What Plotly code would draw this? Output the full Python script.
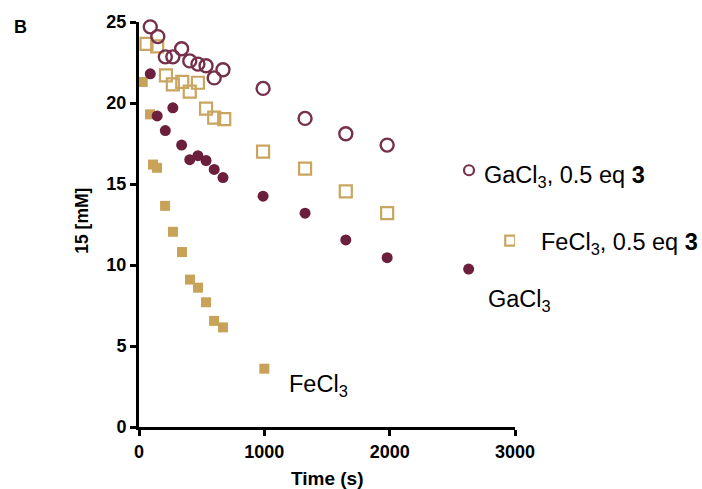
import plotly.graph_objects as go

# Time (s) and concentration of 15 (mM) for each condition
ga_eq_t = [90, 150, 210, 270, 340, 405, 470, 535, 600, 670, 990, 1325, 1650, 1980]
ga_eq_c = [24.7, 24.1, 22.85, 22.85, 23.35, 22.6, 22.4, 22.3, 21.55, 22.05, 20.9, 19.05, 18.1, 17.4]

fe_eq_t = [60, 145, 215, 270, 345, 405, 470, 535, 600, 680, 990, 1325, 1650, 1980]
fe_eq_c = [23.65, 23.5, 21.7, 21.15, 21.3, 20.7, 21.25, 19.65, 19.1, 19.0, 17.0, 15.95, 14.55, 13.2]

ga_t = [90, 145, 210, 270, 340, 405, 470, 535, 600, 670, 990, 1325, 1650, 1980, 2630]
ga_c = [21.8, 19.2, 18.3, 19.7, 17.4, 16.5, 16.75, 16.45, 15.9, 15.4, 14.25, 13.2, 11.55, 10.45, 9.75]

fe_t = [30, 88, 112, 144, 208, 271, 343, 407, 471, 535, 599, 670, 1000]
fe_c = [21.3, 19.3, 16.2, 16.0, 13.65, 12.05, 10.8, 9.1, 8.6, 7.7, 6.55, 6.15, 3.6]

x_ticks = [0, 1000, 2000, 3000]
y_ticks = [0, 5, 10, 15, 20, 25]

MAROON = "#6b1f3d"
MAROON_OPEN = "#75304c"
GOLD = "#c9a25a"
GOLD_OPEN = "#c9a560"
FONT = "Liberation Sans, Arial, sans-serif"

fig = go.Figure()

fig.add_trace(go.Scatter(
    x=fe_t, y=fe_c, mode="markers", cliponaxis=False,
    marker=dict(symbol="square", size=10, color=GOLD, line=dict(width=0)),
))
fig.add_trace(go.Scatter(
    x=ga_t, y=ga_c, mode="markers", cliponaxis=False,
    marker=dict(symbol="circle", size=11, color=MAROON, line=dict(width=0)),
))
fig.add_trace(go.Scatter(
    x=fe_eq_t, y=fe_eq_c, mode="markers", cliponaxis=False,
    marker=dict(symbol="square-open", size=12, color=GOLD_OPEN, line=dict(width=2.2)),
))
fig.add_trace(go.Scatter(
    x=ga_eq_t, y=ga_eq_c, mode="markers", cliponaxis=False,
    marker=dict(symbol="circle-open", size=13, color=MAROON_OPEN, line=dict(width=2.4)),
))

axis_common = dict(
    showline=True, linecolor="black", linewidth=3,
    ticks="outside", ticklen=6, tickwidth=2.5, tickcolor="black",
    showgrid=False, zeroline=False,
    tickfont=dict(family=FONT, size=18, color="black", weight="bold"),
)

fig.update_layout(
    width=702, height=489,
    margin=dict(l=139, r=187, t=20, b=62),
    paper_bgcolor="white", plot_bgcolor="white",
    showlegend=False,
    xaxis=dict(range=[0, 3000], tickvals=x_ticks, **axis_common),
    yaxis=dict(range=[0, 25], tickvals=y_ticks, **axis_common),
)

# Inline key markers for the two "0.5 eq 3" series
fig.add_shape(type="circle", xref="x", yref="y", xsizemode="pixel", ysizemode="pixel",
              xanchor=2633, yanchor=15.85, x0=-5, x1=5, y0=-5, y1=5,
              line=dict(color=MAROON_OPEN, width=2.2))
fig.add_shape(type="rect", xref="x", yref="y", xsizemode="pixel", ysizemode="pixel",
              xanchor=2962, yanchor=11.5, x0=-5, x1=5, y0=-5, y1=5,
              line=dict(color=GOLD_OPEN, width=2.2))

label_font = dict(family=FONT, size=23.5, color="black")
labels = [
    (0.912, 0.618, "GaCl<sub>3</sub>, 0.5 eq <b>3</b>"),
    (1.063, 0.453, "FeCl<sub>3</sub>, 0.5 eq <b>3</b>"),
    (0.923, 0.313, "GaCl<sub>3</sub>"),
    (0.393, 0.102, "FeCl<sub>3</sub>"),
]
for lx, ly, txt in labels:
    fig.add_annotation(x=lx, y=ly, xref="paper", yref="paper", text=txt, showarrow=False,
                       xanchor="left", yanchor="middle", font=label_font)

fig.add_annotation(x=0.5, y=-0.126, xref="paper", yref="paper", text="<b>Time (s)</b>",
                   showarrow=False, xanchor="center", yanchor="middle",
                   font=dict(family=FONT, size=19, color="black"))
fig.add_annotation(x=-0.152, y=0.509, xref="paper", yref="paper", text="<b>15 [mM]</b>",
                   showarrow=False, textangle=-90, xanchor="center", yanchor="middle",
                   font=dict(family=FONT, size=17.5, color="black"))
fig.add_annotation(x=-0.316, y=0.988, xref="paper", yref="paper", text="<b>B</b>",
                   showarrow=False, xanchor="center", yanchor="middle",
                   font=dict(family=FONT, size=18, color="black"))

fig.write_html("out.html")
